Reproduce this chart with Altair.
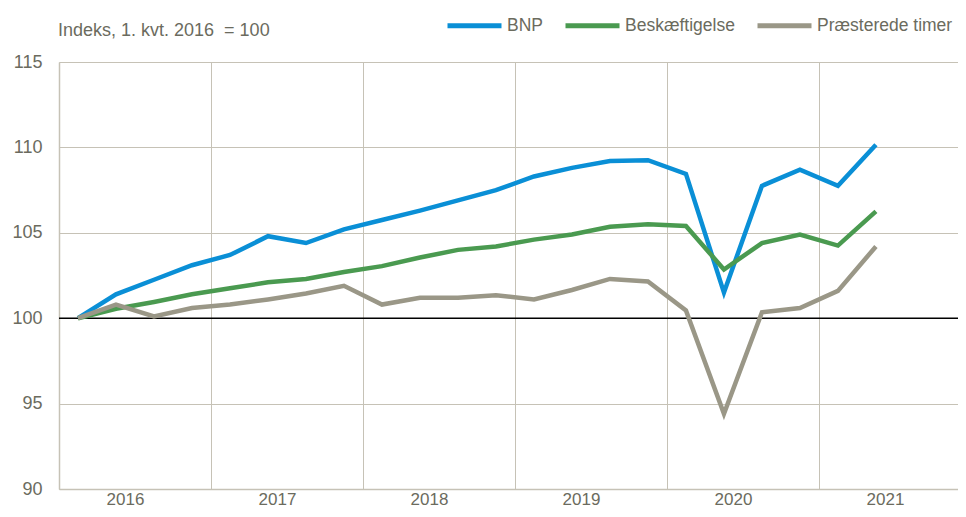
import altair as alt
import pandas as pd

# ---- data ----
quarters = [f"{y}K{q}" for y in range(2016, 2022) for q in range(1, 5)][:22]
years = ["2016", "2017", "2018", "2019", "2020", "2021"]
series_names = ["BNP", "Beskæftigelse", "Præsterede timer"]

bnp = [100.0, 101.4, 102.25, 103.1, 103.7, 104.8, 104.4, 105.2, 105.75, 106.3, 106.9,
       107.5, 108.3, 108.8, 109.2, 109.25, 108.45, 101.5, 107.75, 108.7, 107.75, 110.15]
besk = [100.0, 100.55, 100.95, 101.4, 101.75, 102.1, 102.3, 102.7, 103.05, 103.55, 104.0,
        104.2, 104.6, 104.9, 105.35, 105.5, 105.4, 102.85, 104.4, 104.9, 104.25, 106.25]
timer = [100.0, 100.8, 100.1, 100.6, 100.8, 101.1, 101.45, 101.9, 100.8, 101.2, 101.2,
         101.35, 101.1, 101.65, 102.3, 102.15, 100.45, 94.4, 100.35, 100.6, 101.6, 104.2]

baseline = [100]
y_ticks = [90, 95, 100, 105, 110, 115]
title_text = "Indeks, 1. kvt. 2016\u00a0 = 100"

# ---- build table ----
rows = []
for name, vals in zip(series_names, [bnp, besk, timer]):
    for i, (q, v) in enumerate(zip(quarters, vals)):
        rows.append({"kvartal": q, "t": i + 0.5, "serie": name, "value": v})
df = pd.DataFrame(rows)

FONT = "Liberation Sans, Arial, sans-serif"
TEXT = "#6b6b5e"
GRID = "#c6c2b6"
colors = ["#0a8fd6", "#4a9a50", "#9a9787"]

W, H = 899, 427
x_scale = alt.Scale(domain=[0, 23.66], nice=False, zero=False)
y_scale = alt.Scale(domain=[90, 115], nice=False, zero=False)

year_expr = "[" + ",".join(f"'{y}'" for y in years) + "][datum.value/4]"

lines = alt.Chart(df).mark_line(strokeWidth=4.5).encode(
    x=alt.X("t:Q", scale=x_scale,
            axis=alt.Axis(values=[0, 4, 8, 12, 16, 20], labelExpr=year_expr,
                          labelOffset=66, labelFlush=False, labelOverlap=False,
                          grid=True, ticks=False, title=None, labelPadding=2,
                          labelFontSize=17)),
    y=alt.Y("value:Q", scale=y_scale,
            axis=alt.Axis(values=y_ticks, grid=True, ticks=False, title=None,
                          labelPadding=17)),
    color=alt.Color("serie:N", scale=alt.Scale(domain=series_names, range=colors),
                    legend=alt.Legend(orient="none", legendX=386, legendY=-66,
                                      direction="horizontal", title=None,
                                      symbolType="stroke", symbolSize=2916,
                                      symbolStrokeWidth=5, labelFontSize=17.5,
                                      labelFont=FONT, labelColor=TEXT,
                                      columnPadding=12, labelOffset=3)),
    order=alt.Order("t:Q"),
)

rule = alt.Chart(pd.DataFrame({"y": baseline})).mark_rule(
    color="#000000", strokeWidth=1.6).encode(y=alt.Y("y:Q", scale=y_scale))

title = alt.Chart(pd.DataFrame({"label": [title_text]})).mark_text(
    align="left", baseline="middle", font=FONT, fontSize=18, color=TEXT
).encode(text="label:N", x=alt.value(-1), y=alt.value(-31))

chart = alt.layer(rule, lines, title).properties(
    width=W, height=H,
    padding={"left": 51, "top": 54, "right": 0, "bottom": 20},
    autosize=alt.AutoSizeParams(type="none"),
).configure_view(stroke=None).configure_axis(
    labelFont=FONT, labelFontSize=18, labelColor=TEXT,
    gridColor=GRID, gridWidth=1, domainColor=GRID, domainWidth=1.5,
)

chart.save("out.html", embed_options={"renderer": "svg", "actions": False})
